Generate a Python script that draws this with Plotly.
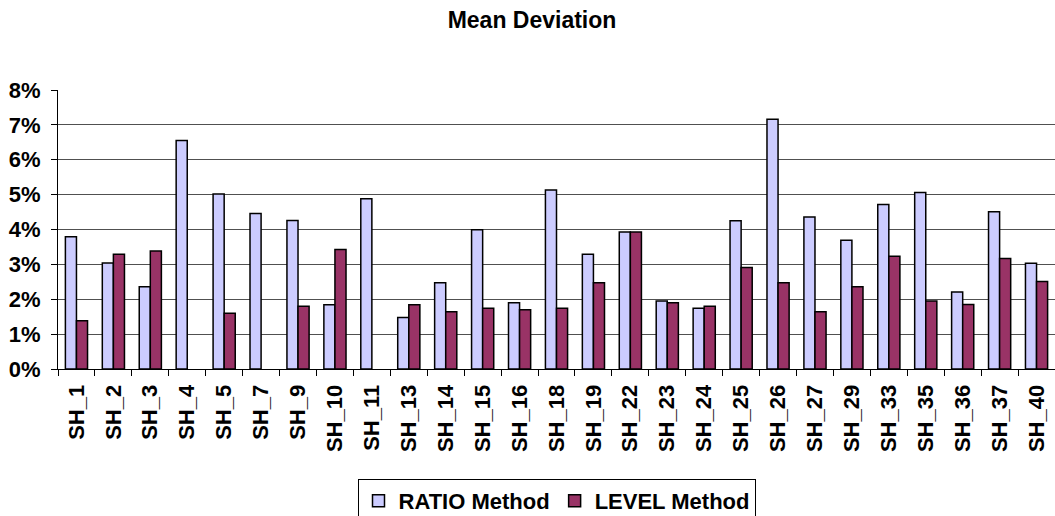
import plotly.graph_objects as go

categories = ["SH_1", "SH_2", "SH_3", "SH_4", "SH_5", "SH_7", "SH_9", "SH_10", "SH_11",
              "SH_13", "SH_14", "SH_15", "SH_16", "SH_18", "SH_19", "SH_22", "SH_23",
              "SH_24", "SH_25", "SH_26", "SH_27", "SH_29", "SH_33", "SH_35", "SH_36",
              "SH_37", "SH_40"]
ratio_method = [0.0379, 0.0304, 0.0236, 0.0655, 0.0502, 0.0446, 0.0426, 0.0184, 0.0488,
                0.0148, 0.0247, 0.0399, 0.0190, 0.0513, 0.0329, 0.0393, 0.0195,
                0.0174, 0.0425, 0.0716, 0.0436, 0.0369, 0.0472, 0.0506, 0.0221,
                0.0451, 0.0303]
level_method = [0.0138, 0.0329, 0.0338, None, 0.0160, None, 0.0180, 0.0343, None,
                0.0184, 0.0164, 0.0174, 0.0170, 0.0174, 0.0247, 0.0393, 0.0190,
                0.0180, 0.0291, 0.0247, 0.0164, 0.0236, 0.0323, 0.0195, 0.0185,
                0.0317, 0.0251]

FONT = "Liberation Sans, Arial, sans-serif"

fig = go.Figure()
fig.add_trace(go.Bar(x=categories, y=ratio_method, name="RATIO Method",
                     marker=dict(color="#CCCCFF", line=dict(color="black", width=1.5))))
fig.add_trace(go.Bar(x=categories, y=level_method, name="LEVEL Method",
                     marker=dict(color="#993366", line=dict(color="black", width=1.5))))

fig.update_layout(
    width=1055, height=516,
    paper_bgcolor="white", plot_bgcolor="white",
    margin=dict(l=58, r=0, t=90, b=147, autoexpand=False),
    barmode="group", bargap=0.40, bargroupgap=0,
    title=dict(text="Mean Deviation", x=532 / 1055, xanchor="center",
               y=1 - 20 / 516, yanchor="middle",
               font=dict(family=FONT, size=23, color="black", weight="bold")),
    font=dict(family=FONT, color="black"),
    showlegend=True,
    legend=dict(orientation="h", x=0.5, xanchor="center",
                y=-(479 - 369) / 279, yanchor="top", bordercolor="black", borderwidth=1,
                font=dict(family=FONT, size=22, color="black", weight="bold"),
                itemwidth=30, tracegroupgap=0),
)
fig.update_xaxes(
    type="category", tickangle=-90, showline=True, linecolor="black", linewidth=1,
    ticks="outside", tickson="boundaries", ticklen=6, tickcolor="black",
    ticklabelstandoff=6, automargin=False,
    tickfont=dict(family=FONT, size=22, color="black", weight="bold"),
    showgrid=False,
)
fig.update_yaxes(
    range=[0, 0.08], dtick=0.01, tickformat=".0%", showline=True, linecolor="black",
    linewidth=1, ticks="outside", ticklen=6, tickcolor="black", automargin=False,
    showgrid=True, gridcolor="#505050", gridwidth=1, zeroline=False,
    ticklabelstandoff=6,
    tickfont=dict(family=FONT, size=22, color="black", weight="bold"),
)

fig.write_html("out.html", config={"displayModeBar": False},
               post_script="document.body.style.margin='0';document.body.style.overflow='hidden';")
